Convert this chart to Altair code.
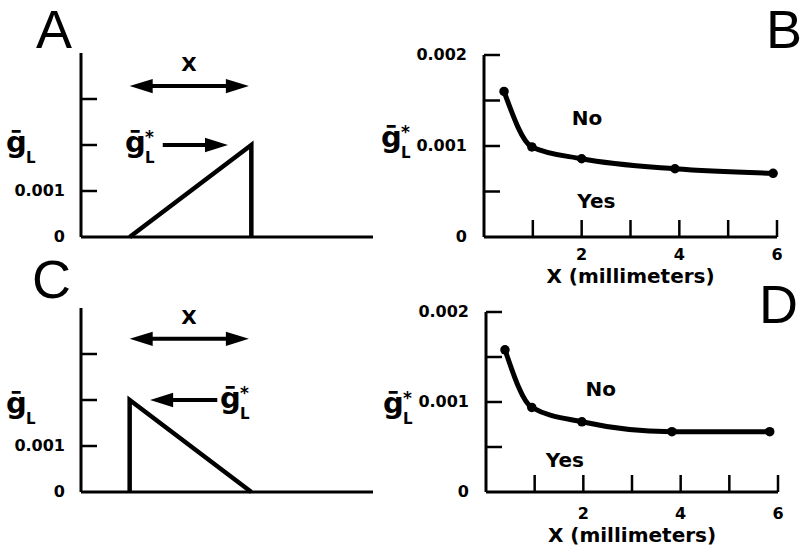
import altair as alt
import pandas as pd

FONT = "DejaVu Sans"
LETTER_FONT = "Liberation Sans"
INK = "black"

# ---- schematic leak-conductance profiles (panels A and C) ----
a_pos = [1.0, 3.5, 3.5]
a_g = [0.0, 0.002, 0.0]
c_pos = [1.0, 1.0, 3.5]
c_g = [0.0, 0.002, 0.0]
schem_tick_vals = [0.001, 0.002, 0.003]
schem_label_vals = [0.0, 0.001]
schem_label_text = ["0", "0.001"]

# ---- threshold conductance versus extent X (panels B and D) ----
b_x_mm = [0.41, 0.98, 2.0, 3.91, 5.92]
b_g = [0.0016, 0.00099, 0.00086, 0.00075, 0.0007]
d_x_mm = [0.39, 0.94, 1.97, 3.82, 5.83]
d_g = [0.00158, 0.00094, 0.00078, 0.00067, 0.00067]
curve_ytick_vals = [0.0005, 0.001, 0.0015, 0.002]
curve_ylabel_vals = [0.0, 0.001, 0.002]
curve_ylabel_text = ["0", "0.001", "0.002"]
curve_xtick_vals = [1, 2, 3, 4, 5, 6]
curve_xlabel_vals = [2, 4, 6]
curve_xlabel_text = ["2", "4", "6"]

# pixel placement of each panel's plotting frame
GEOM = {
    "A": dict(x=(81, 373), y=(237, 53), xd=(0, 6), yd=(0, 0.004)),
    "B": dict(x=(484, 777), y=(237, 55), xd=(0, 6), yd=(0, 0.002)),
    "C": dict(x=(81, 373), y=(492, 308), xd=(0, 6), yd=(0, 0.004)),
    "D": dict(x=(486, 778), y=(492, 312), xd=(0, 6), yd=(0, 0.002)),
}

ONE = alt.Data(values=[{}])
RIGHT_HEAD = "M0,0L-2,-0.62L-2,0.62Z"
LEFT_HEAD = "M0,0L2,-0.62L2,0.62Z"
HEAD_SIZE = 529


class Panel:
    def __init__(self, g):
        self.sx = alt.Scale(domain=list(g["xd"]), range=list(g["x"]), nice=False, zero=False)
        self.sy = alt.Scale(domain=list(g["yd"]), range=list(g["y"]), nice=False, zero=False)
        self.xmax = g["xd"][1]
        self.ymax = g["yd"][1]

    def X(self, f):
        return alt.X(f, type="quantitative", scale=self.sx, axis=None)

    def Y(self, f):
        return alt.Y(f, type="quantitative", scale=self.sy, axis=None)

    def XD(self, v):
        return alt.XDatum(v, scale=self.sx, axis=None)

    def YD(self, v):
        return alt.YDatum(v, scale=self.sy, axis=None)


def frame(p, ytick_vals, ylabel_vals, ylabel_text, label_dx,
          xtick_vals=None, xlabel_vals=None, xlabel_text=None, xlabel_dy=20):
    layers = [
        alt.Chart(ONE).mark_rule(color=INK, strokeWidth=3).encode(
            x=p.XD(0), y=p.YD(0), y2=alt.Y2Datum(p.ymax)),
        alt.Chart(ONE).mark_rule(color=INK, strokeWidth=3).encode(
            y=p.YD(0), x=p.XD(0), x2=alt.X2Datum(p.xmax)),
        alt.Chart(pd.DataFrame({"v": ytick_vals})).mark_rule(
            color=INK, strokeWidth=2.5, x2Offset=16).encode(
            x=p.XD(0), x2=alt.X2Datum(0), y=p.Y("v")),
        alt.Chart(pd.DataFrame({"v": ylabel_vals, "t": ylabel_text})).mark_text(
            align="right", baseline="middle", dx=label_dx, font=FONT,
            fontSize=16, fontWeight="bold", color=INK).encode(
            x=p.XD(0), y=p.Y("v"), text="t:N"),
    ]
    if xtick_vals:
        layers.append(
            alt.Chart(pd.DataFrame({"v": xtick_vals})).mark_rule(
                color=INK, strokeWidth=2.5, y2Offset=-17).encode(
                y=p.YD(0), y2=alt.Y2Datum(0), x=p.X("v")))
        layers.append(
            alt.Chart(pd.DataFrame({"v": xlabel_vals, "t": xlabel_text})).mark_text(
                align="center", baseline="middle", dy=xlabel_dy, font=FONT,
                fontSize=16, fontWeight="bold", color=INK).encode(
                x=p.X("v"), y=p.YD(0), text="t:N"))
    return layers


def arrow(p, x_tail, x_tip, y, double=False):
    right = x_tip > x_tail
    shaft_kw = {"x2Offset": -10} if right else {"x2Offset": 10}
    if double:
        shaft_kw["xOffset"] = 10 if right else -10
    layers = [
        alt.Chart(ONE).mark_rule(color=INK, strokeWidth=4, **shaft_kw).encode(
            x=p.XD(x_tail), x2=alt.X2Datum(x_tip), y=p.YD(y)),
        alt.Chart(ONE).mark_point(shape=RIGHT_HEAD if right else LEFT_HEAD,
                                  size=HEAD_SIZE, filled=True, color=INK,
                                  opacity=1, strokeWidth=0).encode(
            x=p.XD(x_tip), y=p.YD(y)),
    ]
    if double:
        layers.append(
            alt.Chart(ONE).mark_point(shape=LEFT_HEAD if right else RIGHT_HEAD,
                                      size=HEAD_SIZE, filled=True, color=INK,
                                      opacity=1, strokeWidth=0).encode(
                x=p.XD(x_tail), y=p.YD(y)))
    return layers


def g_symbol(left, base, star):
    """g-bar with subscript L (and optional asterisk), placed in pixels."""
    layers = [
        alt.Chart(ONE).mark_text(text="ḡ", align="left", baseline="alphabetic",
                                 font=FONT, fontSize=29, fontWeight="bold",
                                 color=INK).encode(x=alt.value(left), y=alt.value(base)),
        alt.Chart(ONE).mark_text(text="L", align="left", baseline="alphabetic",
                                 font=FONT, fontSize=15, fontWeight="bold",
                                 color=INK).encode(x=alt.value(left + 20), y=alt.value(base + 11)),
    ]
    if star:
        layers.append(
            alt.Chart(ONE).mark_text(text="*", align="left", baseline="alphabetic",
                                     font=FONT, fontSize=17, fontWeight="bold",
                                     color=INK).encode(x=alt.value(left + 20), y=alt.value(base - 9)))
    return layers


def letter(ch, left, base):
    return alt.Chart(ONE).mark_text(text=ch, align="left", baseline="alphabetic",
                                    font=LETTER_FONT, fontSize=54, color=INK).encode(
        x=alt.value(left), y=alt.value(base))


def label(p, txt, x, y, size=20, dy=0):
    return alt.Chart(ONE).mark_text(text=txt, align="center", baseline="middle",
                                    font=FONT, fontSize=size, fontWeight="bold",
                                    color=INK, dy=dy).encode(x=p.XD(x), y=p.YD(y))


def profile(p, pos, g):
    df = pd.DataFrame({"x": pos, "g": g, "i": list(range(len(pos)))})
    return alt.Chart(df).mark_line(color=INK, strokeWidth=4.5, strokeJoin="miter").encode(
        x=p.X("x"), y=p.Y("g"), order=alt.Order("i:Q"))


def curve(p, xs, gs):
    df = pd.DataFrame({"x": xs, "g": gs})
    line = alt.Chart(df).mark_line(color=INK, strokeWidth=5, interpolate="monotone").encode(
        x=p.X("x"), y=p.Y("g"))
    dots = alt.Chart(df).mark_circle(color=INK, size=90, opacity=1).encode(
        x=p.X("x"), y=p.Y("g"))
    return [line, dots]


# ---- panel A ----
pA = Panel(GEOM["A"])
panel_A = alt.layer(
    *frame(pA, schem_tick_vals, schem_label_vals, schem_label_text, -16),
    profile(pA, a_pos, a_g),
    *arrow(pA, 1.0, 3.45, 0.00328, double=True),
    label(pA, "X", 2.22, 0.00328, dy=-21),
    *arrow(pA, 1.68, 3.02, 0.002),
    *g_symbol(6, 152, False),
    *g_symbol(125, 152, True),
    letter("A", 36, 48),
)

# ---- panel B ----
pB = Panel(GEOM["B"])
panel_B = alt.layer(
    *frame(pB, curve_ytick_vals, curve_ylabel_vals, curve_ylabel_text, -17,
           curve_xtick_vals, curve_xlabel_vals, curve_xlabel_text, xlabel_dy=18),
    *curve(pB, b_x_mm, b_g),
    label(pB, "No", 2.11, 0.0013),
    label(pB, "Yes", 2.3, 0.00038),
    label(pB, "X (millimeters)", 3, 0, dy=40),
    *g_symbol(381, 147, True),
    letter("B", 766, 48),
)

# ---- panel C ----
pC = Panel(GEOM["C"])
panel_C = alt.layer(
    *frame(pC, schem_tick_vals, schem_label_vals, schem_label_text, -16),
    profile(pC, c_pos, c_g),
    *arrow(pC, 1.0, 3.45, 0.00333, double=True),
    label(pC, "X", 2.22, 0.00333, dy=-21),
    *arrow(pC, 2.8, 1.42, 0.002),
    *g_symbol(6, 413, False),
    *g_symbol(220, 408, True),
    letter("C", 32, 298),
)

# ---- panel D ----
pD = Panel(GEOM["D"])
panel_D = alt.layer(
    *frame(pD, curve_ytick_vals, curve_ylabel_vals, curve_ylabel_text, -17,
           curve_xtick_vals, curve_xlabel_vals, curve_xlabel_text, xlabel_dy=22),
    *curve(pD, d_x_mm, d_g),
    label(pD, "No", 2.36, 0.00113),
    label(pD, "Yes", 1.62, 0.00034),
    label(pD, "X (millimeters)", 3, 0, dy=44),
    *g_symbol(383, 413, True),
    letter("D", 759, 323),
)

chart = alt.layer(panel_A, panel_B, panel_C, panel_D).resolve_scale(
    x="independent", y="independent"
).properties(
    width=801, height=556,
    autosize=alt.AutoSizeParams(type="none"),
    padding=0,
    background="white",
).configure_view(stroke=None)

chart.save("out.html", embed_options={"renderer": "svg", "actions": False})
